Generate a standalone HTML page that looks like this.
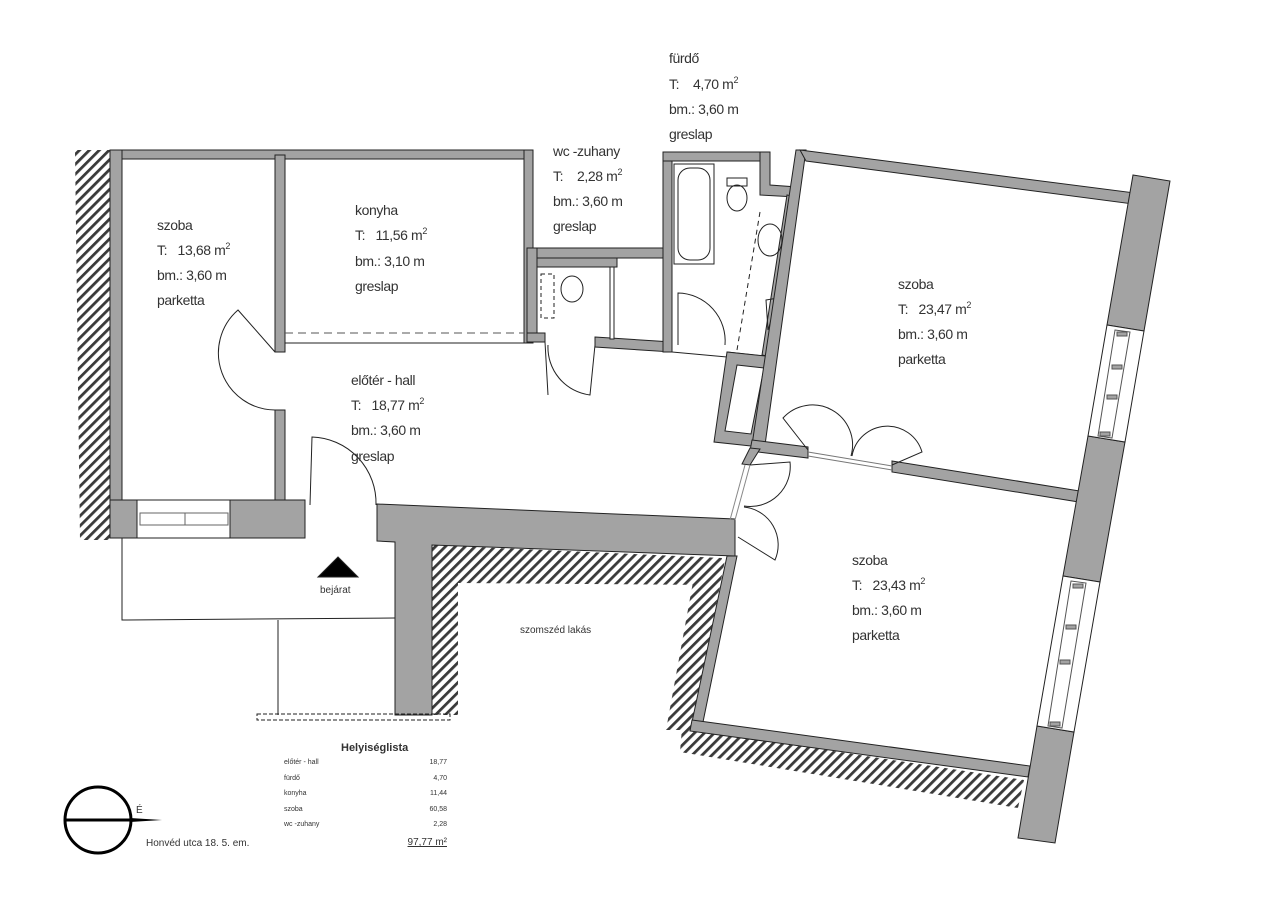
<!DOCTYPE html>
<html><head><meta charset="utf-8"><style>
html,body{margin:0;padding:0;background:#fff;}
svg{display:block;}
text{font-family:"Liberation Sans",sans-serif;fill:#333;}
.l{font-size:14px;letter-spacing:-0.4px;}
</style></head><body>
<svg width="1280" height="900" viewBox="0 0 1280 900" xmlns="http://www.w3.org/2000/svg">
<defs>
<pattern id="h" patternUnits="userSpaceOnUse" width="7" height="7" patternTransform="rotate(45)">
<rect width="7" height="7" fill="#fff"/><rect width="2.8" height="7" fill="#3a3a3a"/>
</pattern>
</defs>
<g stroke="#222" stroke-width="1">
<!-- hatches -->
<polygon points="75,150 110,150 110,540 80,540" fill="url(#h)" stroke="none"/>
<polygon points="432,545 722,558 718,585 458,583 458,715 432,715" fill="url(#h)" stroke="none"/>
<polygon points="697,560 725,560 692,730 666,730" fill="url(#h)" stroke="none"/>
<polygon points="682,728 1024,780 1018,808 680,752" fill="url(#h)" stroke="none"/>

<!-- left rooms walls -->
<g fill="#a3a3a3">
<rect x="110" y="150" width="422" height="9"/>
<rect x="110" y="150" width="12" height="350"/>
<rect x="275" y="155" width="10" height="197"/>
<rect x="275" y="410" width="10" height="90"/>
<rect x="524" y="150" width="9" height="193"/>
<rect x="110" y="500" width="27" height="38"/>
<rect x="230" y="500" width="75" height="38"/>
<polygon points="377,504 735,519 735,556 432,545 432,715 395,715 395,542 377,541"/>
</g>
<line x1="285" y1="343" x2="532" y2="343"/>
<line x1="285" y1="333" x2="524" y2="333" stroke-dasharray="8,5" stroke="#555"/>
<line x1="122" y1="500" x2="305" y2="500"/>
<!-- window left -->
<rect x="137" y="500" width="93" height="38" fill="#fff"/>
<rect x="140" y="513" width="88" height="12" fill="none" stroke="#666"/>
<line x1="185" y1="513" x2="185" y2="525" stroke="#666"/>
<!-- doors left -->
<path d="M275,352 L238,310 A57,57 0 0 0 275,410" fill="none"/>
<path d="M310,505 L312,437 A66,66 0 0 1 376,505" fill="none"/>
<!-- entrance -->
<polyline points="122,538 122,620 395,618" fill="none"/>
<line x1="278" y1="620" x2="278" y2="715"/>
<rect x="257" y="714" width="193" height="6" fill="none" stroke-dasharray="4,2"/>
<polygon points="338,557 318,577 358,577" fill="#000"/>

<!-- wc-zuhany -->
<g fill="#a3a3a3">
<rect x="527" y="248" width="145" height="10"/>
<rect x="527" y="258" width="90" height="9"/>
<rect x="527" y="248" width="10" height="94"/>
<rect x="527" y="333" width="18" height="9"/>
<polygon points="595,337 672,342 672,352 595,347"/>
<rect x="663" y="152" width="9" height="200"/>
<rect x="663" y="152" width="107" height="9"/>
<polygon points="760,152 770,152 770,185 797,187 796,197 760,195"/>
<polygon points="787,195 797,197 772,357 762,355"/>
<polygon points="727,352 772,357 770,365 727,360"/>
</g>
<rect x="610" y="267" width="4" height="72" fill="#fff"/>
<rect x="541" y="274" width="13" height="44" fill="none" stroke-dasharray="4,3"/>
<ellipse cx="572" cy="289" rx="11" ry="13" fill="none"/>
<path d="M545,342 L548,395 M548,345 A48,48 0 0 0 590,395 L595,345" fill="none"/>
<rect x="674" y="164" width="40" height="100" fill="none"/>
<rect x="678" y="168" width="32" height="92" rx="12" fill="none"/>
<ellipse cx="737" cy="198" rx="10" ry="13" fill="none"/>
<rect x="727" y="178" width="20" height="8" fill="none"/>
<ellipse cx="770" cy="240" rx="12" ry="16" fill="none"/>
<line x1="760" y1="212" x2="737" y2="350" stroke-dasharray="5,4"/>
<path d="M678,345 L678,293 A48,48 0 0 1 725,345" fill="none"/>
<line x1="672" y1="352" x2="727" y2="357"/>
<path d="M766,300 L778,298 L768,330 Z" fill="none"/>

<!-- closet + upper room walls -->
<g fill="#a3a3a3" fill-rule="evenodd">
<path d="M727,352 L775,357 L760,447 L714,442 Z M737,365 L764,368 L751,434 L725,431 Z"/>
<polygon points="796,150 806,150 765,445 752,445"/>
<polygon points="800,150 1135,193 1133,204 806,161"/>
<polygon points="752,440 808,447 808,458 750,451"/>
<polygon points="892,461 1086,492 1085,503 892,472"/>
<polygon points="750,448 760,449 750,465 742,464"/>
<polygon points="1133,175 1170,181 1144,331 1107,325"/>
<polygon points="1088,436 1125,442 1100,582 1063,576"/>
<polygon points="1037,726 1074,732 1055,843 1018,838"/>
<polygon points="727,556 737,556 703,722 692,722"/>
<polygon points="692,720 1030,766 1028,777 690,731"/>
</g>
<!-- windows right -->
<polygon points="1107,325 1144,331 1125,442 1088,436" fill="#fff"/>
<polygon points="1063,576 1100,582 1074,732 1037,726" fill="#fff"/>
<g fill="none" stroke="#555">
<polygon points="1115,330 1130,332 1112,438 1098,436"/>
<polygon points="1071,581 1086,583 1062,728 1048,726"/>
</g>
<g fill="#a3a3a3" stroke="#555">
<rect x="1117" y="332" width="10" height="4"/><rect x="1112" y="365" width="10" height="4"/><rect x="1107" y="395" width="10" height="4"/><rect x="1100" y="432" width="10" height="4"/>
<rect x="1073" y="584" width="10" height="4"/><rect x="1066" y="625" width="10" height="4"/><rect x="1060" y="660" width="10" height="4"/><rect x="1050" y="722" width="10" height="4"/>
</g>
<!-- upper doors -->
<path d="M808,450 L783,418 A40,40 0 0 1 851,456" fill="none"/>
<path d="M852,456 A36,36 0 0 1 922,452 L892,465" fill="none"/>
<line x1="808" y1="452" x2="892" y2="466" stroke="#777"/>
<line x1="808" y1="456" x2="892" y2="470" stroke="#777"/>
<!-- lower doors -->
<path d="M750,465 L790,462 A40,40 0 0 1 744,506" fill="none"/>
<path d="M744,507 A38,38 0 0 1 775,560 L738,537" fill="none"/>
<line x1="750" y1="465" x2="735" y2="520" stroke="#888"/>
<line x1="745" y1="465" x2="730" y2="520" stroke="#888"/>
</g>

<!-- labels -->
<text class="l" x="669" y="63">fürdő</text>
<text class="l" x="669" y="89">T:&#160;&#160;&#160;&#160;4,70 m<tspan font-size="9" dy="-6">2</tspan></text>
<text class="l" x="669" y="114">bm.: 3,60 m</text>
<text class="l" x="669" y="139">greslap</text>

<text class="l" x="553" y="156">wc -zuhany</text>
<text class="l" x="553" y="181">T:&#160;&#160;&#160;&#160;2,28 m<tspan font-size="9" dy="-6">2</tspan></text>
<text class="l" x="553" y="206">bm.: 3,60 m</text>
<text class="l" x="553" y="231">greslap</text>

<text class="l" x="157" y="230">szoba</text>
<text class="l" x="157" y="255">T:&#160;&#160;&#160;13,68 m<tspan font-size="9" dy="-6">2</tspan></text>
<text class="l" x="157" y="280">bm.: 3,60 m</text>
<text class="l" x="157" y="305">parketta</text>

<text class="l" x="355" y="215">konyha</text>
<text class="l" x="355" y="240">T:&#160;&#160;&#160;11,56 m<tspan font-size="9" dy="-6">2</tspan></text>
<text class="l" x="355" y="266">bm.: 3,10 m</text>
<text class="l" x="355" y="291">greslap</text>

<text class="l" x="351" y="385">előtér - hall</text>
<text class="l" x="351" y="410">T:&#160;&#160;&#160;18,77 m<tspan font-size="9" dy="-6">2</tspan></text>
<text class="l" x="351" y="435">bm.: 3,60 m</text>
<text class="l" x="351" y="461">greslap</text>

<text class="l" x="898" y="289">szoba</text>
<text class="l" x="898" y="314">T:&#160;&#160;&#160;23,47 m<tspan font-size="9" dy="-6">2</tspan></text>
<text class="l" x="898" y="339">bm.: 3,60 m</text>
<text class="l" x="898" y="364">parketta</text>

<text class="l" x="852" y="565">szoba</text>
<text class="l" x="852" y="590">T:&#160;&#160;&#160;23,43 m<tspan font-size="9" dy="-6">2</tspan></text>
<text class="l" x="852" y="615">bm.: 3,60 m</text>
<text class="l" x="852" y="640">parketta</text>

<text x="320" y="593" font-size="10" fill="#555">bejárat</text>
<text x="520" y="633" font-size="10" fill="#555">szomszéd lakás</text>

<text x="341" y="751" font-size="11" font-weight="bold" fill="#111">Helyiséglista</text>
<g font-size="7">
<text x="284" y="764">előtér - hall</text><text x="447" y="764" text-anchor="end">18,77</text>
<text x="284" y="780">fürdő</text><text x="447" y="780" text-anchor="end">4,70</text>
<text x="284" y="795">konyha</text><text x="447" y="795" text-anchor="end">11,44</text>
<text x="284" y="811">szoba</text><text x="447" y="811" text-anchor="end">60,58</text>
<text x="284" y="826">wc -zuhany</text><text x="447" y="826" text-anchor="end">2,28</text>
</g>
<text x="447" y="845" font-size="10" text-anchor="end" text-decoration="underline" fill="#111">97,77 m²</text>

<circle cx="98" cy="820" r="33" fill="none" stroke="#000" stroke-width="3"/>
<line x1="65" y1="820" x2="131" y2="820" stroke="#000" stroke-width="3"/>
<polygon points="130,818 162,820 130,822" fill="#000"/>
<text x="136" y="813" font-size="10" fill="#555">É</text>
<text x="146" y="846" font-size="10" fill="#555">Honvéd utca 18. 5. em.</text>
</svg>
</body></html>
